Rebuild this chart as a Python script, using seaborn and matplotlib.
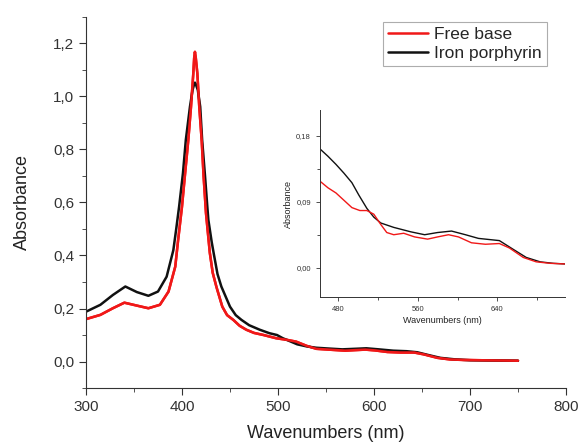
import matplotlib
matplotlib.use("Agg")
import matplotlib.pyplot as plt
import numpy as np
import pandas as pd
import seaborn as sns
from matplotlib.ticker import MultipleLocator, FuncFormatter

sns.set_style("ticks")
plt.rcParams.update({
    "font.family": ["Liberation Sans", "DejaVu Sans"],
    "xtick.direction": "out",
    "ytick.direction": "out",
})

# main spectrum
fb_nm = [300, 315, 328, 340, 353, 365, 377, 386, 393, 396, 400, 403, 406.6,
         409.4, 411.8, 412.7, 413.5, 414.4, 416, 418, 420.5, 422.5, 425, 429,
         432, 436, 442, 447, 453.5, 460, 467, 475, 485, 498, 509, 519, 530,
         540, 557, 570, 580, 591, 601, 614, 628, 642, 652, 666, 679, 693, 710,
         730, 750]
fb_abs = [0.16, 0.176, 0.201, 0.222, 0.211, 0.201, 0.214, 0.264, 0.358, 0.459,
          0.584, 0.70, 0.836, 0.961, 1.087, 1.145, 1.168, 1.145, 1.087, 0.961,
          0.836, 0.70, 0.56, 0.41, 0.335, 0.28, 0.207, 0.175, 0.157, 0.135,
          0.12, 0.108, 0.10, 0.088, 0.082, 0.075, 0.059, 0.048, 0.044, 0.041,
          0.043, 0.045, 0.042, 0.036, 0.034, 0.034, 0.027, 0.014, 0.008, 0.006,
          0.005, 0.004, 0.003]

fe_nm = [300, 315, 328, 341, 353, 365, 375, 384, 391, 394, 397, 401, 404,
         408.3, 411, 412.6, 413.5, 414.5, 416.5, 419, 421, 424, 426.4, 427.5,
         431, 433, 437, 441, 450, 456, 462, 470, 481, 491, 499, 505, 509, 520,
         530, 540, 553, 567, 580, 592, 605, 620, 634, 645, 655, 669, 685, 700,
         725, 750]
fe_abs = [0.188, 0.214, 0.251, 0.283, 0.262, 0.248, 0.264, 0.32, 0.42, 0.50,
          0.584, 0.71, 0.836, 0.961, 1.024, 1.045, 1.052, 1.045, 1.024, 0.961,
          0.836, 0.70, 0.584, 0.534, 0.45, 0.409, 0.33, 0.283, 0.207, 0.175,
          0.157, 0.137, 0.12, 0.107, 0.10, 0.088, 0.082, 0.065, 0.057, 0.052,
          0.049, 0.046, 0.048, 0.05, 0.046, 0.041, 0.039, 0.035, 0.026, 0.014,
          0.008, 0.005, 0.004, 0.003]

# inset (zoomed region)
in_fb_nm = [462, 470, 478, 486, 494, 502, 509, 516, 523, 529, 536, 546, 557,
            570, 580, 591, 601, 614, 628, 642, 652, 666, 679, 693, 710]
in_fb_abs = [0.118, 0.109, 0.102, 0.092, 0.082, 0.078, 0.078, 0.073, 0.059,
             0.048, 0.045, 0.047, 0.042, 0.039, 0.042, 0.045, 0.042, 0.034,
             0.032, 0.033, 0.027, 0.014, 0.008, 0.006, 0.005]
in_fe_nm = [462, 470, 478, 486, 494, 501, 509, 516, 523, 536, 553, 567, 580,
            594, 608, 621, 642, 656, 669, 683, 696, 710]
in_fe_abs = [0.162, 0.152, 0.141, 0.129, 0.116, 0.099, 0.081, 0.069, 0.061,
             0.055, 0.049, 0.045, 0.048, 0.050, 0.045, 0.040, 0.037, 0.025,
             0.014, 0.008, 0.006, 0.005]

RED = "#f01818"
BLACK = "#111111"


def comma_fmt(dec):
    return FuncFormatter(lambda v, p: f"{v:.{dec}f}".replace(".", ","))


def style_axes(ax):
    sns.despine(ax=ax)
    for s in ("left", "bottom"):
        ax.spines[s].set_color("#333333")


fig = plt.figure(figsize=(5.79, 4.44), dpi=100)
ax = fig.add_axes([0.1485, 0.126, 0.829, 0.836])

line_kw = dict(solid_joinstyle="round", solid_capstyle="round")
sns.lineplot(x=fb_nm, y=fb_abs, ax=ax, color=RED, lw=1.8, label="Free base", **line_kw)
sns.lineplot(x=fe_nm, y=fe_abs, ax=ax, color=BLACK, lw=1.8, label="Iron porphyrin", **line_kw)
sns.lineplot(x=fb_nm, y=fb_abs, ax=ax, color=RED, lw=1.8, legend=False, **line_kw)

ax.set_xlim(300, 800)
ax.set_ylim(-0.1, 1.3)
ax.xaxis.set_major_locator(MultipleLocator(100))
ax.xaxis.set_minor_locator(MultipleLocator(50))
ax.yaxis.set_major_locator(MultipleLocator(0.2))
ax.yaxis.set_minor_locator(MultipleLocator(0.1))
ax.yaxis.set_major_formatter(comma_fmt(1))
ax.tick_params(which="major", length=5, labelsize=11, colors="#333333")
ax.tick_params(which="minor", length=3, colors="#333333")
ax.set_xlabel("Wavenumbers (nm)", fontsize=13, color="#222222", labelpad=8)
ax.set_ylabel("Absorbance", fontsize=13, color="#222222", labelpad=16)
style_axes(ax)

leg = ax.legend(loc="upper right", bbox_to_anchor=(0.960, 0.9865), fontsize=12.5,
                frameon=True, fancybox=False, handlelength=2.3,
                borderpad=0.3, labelspacing=0.22, handletextpad=0.35,
                borderaxespad=0)
leg.get_frame().set_edgecolor("#999999")
leg.get_frame().set_linewidth(0.8)

# inset
ins = fig.add_axes([0.5527, 0.331, 0.4233, 0.421])
sns.lineplot(x=in_fe_nm, y=in_fe_abs, ax=ins, color=BLACK, lw=1.0, **line_kw)
sns.lineplot(x=in_fb_nm, y=in_fb_abs, ax=ins, color=RED, lw=1.0, **line_kw)
ins.set_xlim(462, 708)
ins.set_ylim(-0.04, 0.215)
ins.set_xticks([480, 560, 640])
ins.xaxis.set_minor_locator(MultipleLocator(40))
ins.set_yticks([0.0, 0.09, 0.18])
ins.yaxis.set_minor_locator(MultipleLocator(0.045))
ins.yaxis.set_major_formatter(comma_fmt(2))
ins.tick_params(which="major", length=3, labelsize=5.5, colors="#333333", width=0.6)
ins.tick_params(which="minor", length=2, colors="#333333", width=0.6)
ins.set_xlabel("Wavenumbers (nm)", fontsize=6.5, color="#222222", labelpad=2)
ins.set_ylabel("Absorbance", fontsize=6.5, color="#222222", labelpad=2)
style_axes(ins)
for s in ("left", "bottom"):
    ins.spines[s].set_linewidth(0.7)

fig.savefig("out.png", dpi=100)
